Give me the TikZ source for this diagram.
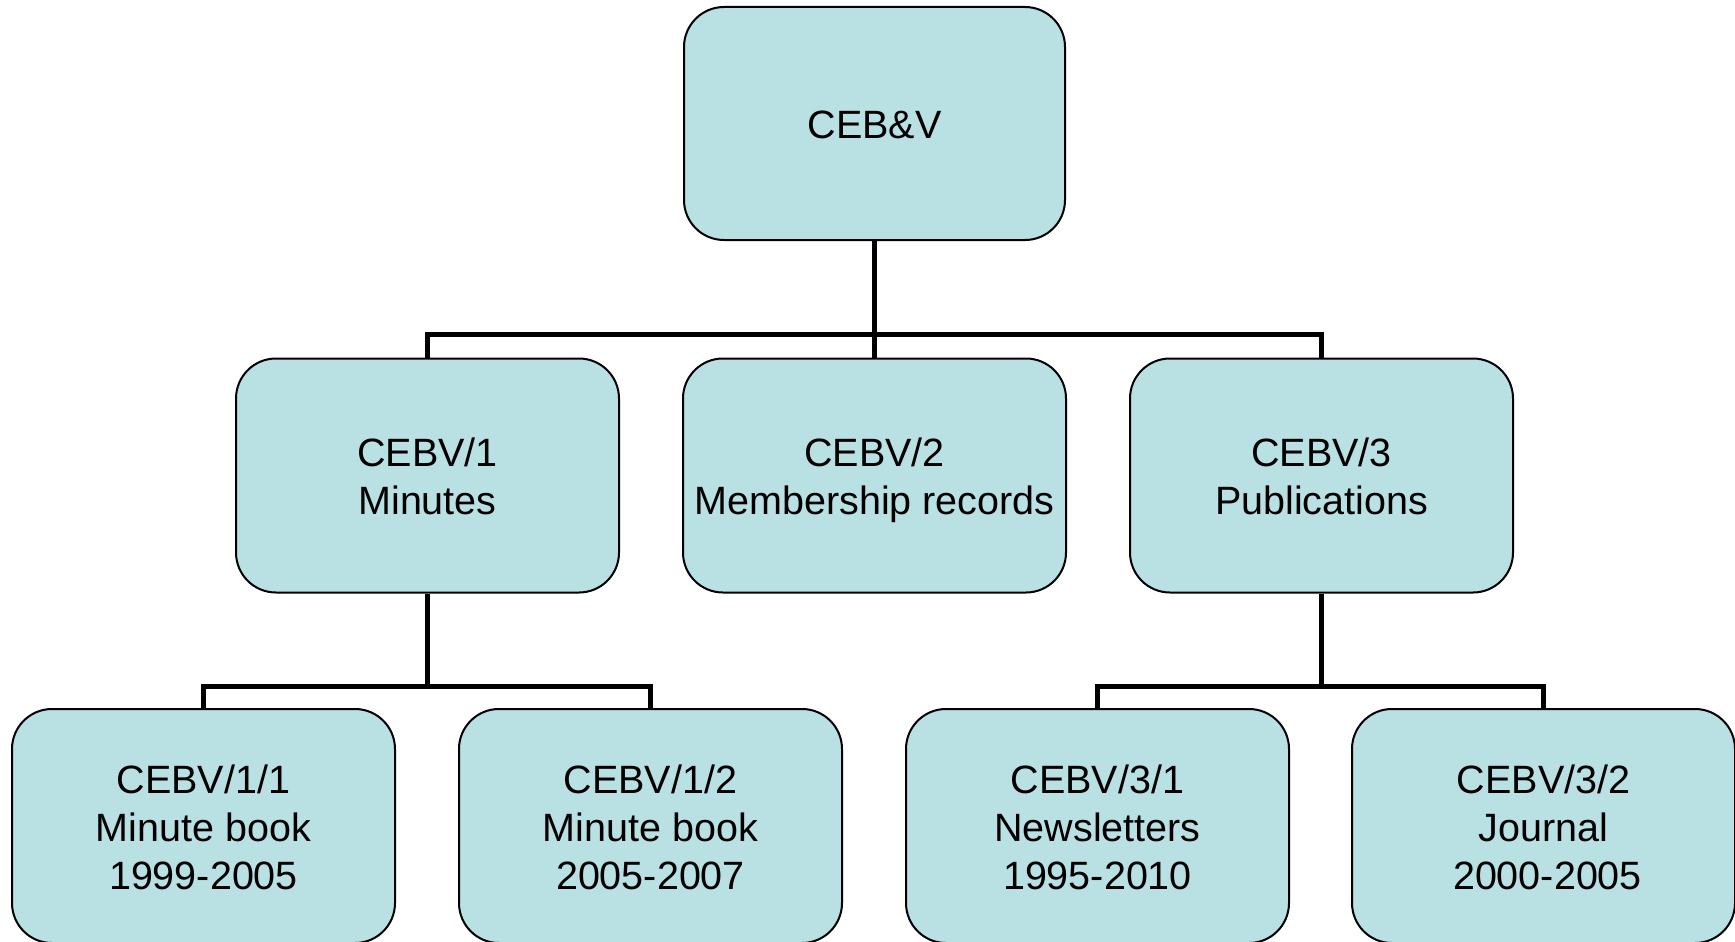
\documentclass[tikz,border=0pt]{standalone}
\usepackage{fontspec}
\setmainfont{Liberation Sans}
\definecolor{boxfill}{RGB}{185,224,227}
\newcommand{\topstrut}{\rule{0pt}{45pt}}
\newcommand{\botstrut}{\rule[-14.4pt]{0pt}{14.4pt}}
\begin{document}
\begin{tikzpicture}[x=1pt,y=-1pt,
  box/.style={draw=black, line width=2pt, fill=boxfill, rounded corners=40pt,
    minimum width=383pt, minimum height=234pt, inner sep=0pt, align=center,
    font=\fontsize{39.5}{48}\selectfont, execute at end node=\botstrut},
  conn/.style={draw=black, line width=5pt}]
\useasboundingbox (0,0) rectangle (1735,942);
\clip (0,0) rectangle (1735,942);
\fill[white] (0,0) rectangle (1735,942);
\coordinate (b1) at (874.5,334);
\coordinate (b2) at (427.5,686);
\coordinate (b3) at (1321.5,686);
\node[box, minimum width=381pt, minimum height=233pt] (top) at (874.5,123.5) {\topstrut CEB\&V};
\node[box] (m1) at (427.5,475.5) {\topstrut CEBV/1\\Minutes};
\node[box] (m2) at (874.5,475.5) {\topstrut CEBV/2\\Membership records};
\node[box] (m3) at (1321.5,475.5) {\topstrut CEBV/3\\Publications};
\node[box] (l1) at (203.5,826) {\topstrut CEBV/1/1\\Minute book\\1999-2005};
\node[box] (l2) at (650.5,826) {\topstrut CEBV/1/2\\Minute book\\2005-2007};
\node[box] (l3) at (1097.5,826) {\topstrut CEBV/3/1\\Newsletters\\1995-2010};
\node[box] (l4) at (1543.5,826) {\topstrut CEBV/3/2\\Journal\\\hspace*{8pt}2000-2005};
\draw[conn] (top.south) -- (m2.north);
\draw[conn] (m1.north) |- (b1) -| (m3.north);
\draw[conn] (m1.south) -- (b2);
\draw[conn] (l1.north) |- (b2) -| (l2.north);
\draw[conn] (m3.south) -- (b3);
\draw[conn] (l3.north) |- (b3) -| (l4.north);
\end{tikzpicture}
\end{document}
